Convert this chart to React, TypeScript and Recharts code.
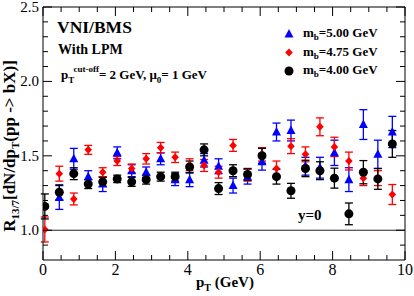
import { ComposedChart, ErrorBar, ReferenceLine, Scatter, XAxis, YAxis } from "recharts"

// pT bin centres (GeV)
const pT = [0.05, 0.45, 0.85, 1.25, 1.65, 2.05, 2.45, 2.85, 3.25, 3.65, 4.05, 4.45, 4.85, 5.25, 5.65, 6.05, 6.45, 6.85, 7.25, 7.65, 8.05, 8.45, 8.85, 9.25, 9.65]

// m_b = 5.00 GeV
const mb500 = [null, 1.22, 1.48, 1.36, 1.31, 1.52, 1.40, 1.39, 1.48, 1.34, 1.34, 1.47, 1.43, 1.30, 1.36, 1.46, 1.66, 1.67, 1.43, 1.42, 1.52, 1.34, 1.71, 1.51, 1.66]
const mb500Err = [null, 0.08, 0.07, 0.04, 0.05, 0.04, 0.04, 0.035, 0.04, 0.04, 0.047, 0.045, 0.05, 0.05, 0.05, 0.056, 0.06, 0.07, 0.06, 0.07, 0.085, 0.08, 0.1, 0.095, 0.105]

// m_b = 4.75 GeV
const mb475 = [1.005, 1.38, 1.21, 1.54, 1.39, 1.465, 1.415, 1.48, 1.555, 1.49, 1.44, 1.435, 1.39, 1.57, 1.37, 1.51, 1.415, 1.565, 1.51, 1.695, 1.56, 1.465, 1.35, 1.35, 1.24]
const mb475Err = [0.084, 0.05, 0.04, 0.03, 0.03, 0.03, 0.03, 0.035, 0.035, 0.035, 0.04, 0.04, 0.04, 0.04, 0.04, 0.045, 0.05, 0.05, 0.05, 0.06, 0.065, 0.06, 0.05, 0.05, 0.067]

// m_b = 4.00 GeV
const mb400 = [1.16, 1.255, 1.38, 1.31, 1.325, 1.345, 1.325, 1.34, 1.36, 1.36, 1.425, 1.54, 1.28, 1.40, 1.375, 1.50, 1.36, 1.265, 1.415, 1.40, 1.35, 1.11, 1.39, 1.345, 1.58]
const mb400Err = [0.084, 0.05, 0.04, 0.03, 0.03, 0.025, 0.03, 0.03, 0.03, 0.03, 0.04, 0.04, 0.04, 0.04, 0.04, 0.05, 0.05, 0.05, 0.055, 0.06, 0.067, 0.073, 0.078, 0.07, 0.09]

const legendLabels = ["5.00", "4.75", "4.00"]
const xTicks = [0, 0.5, 1, 1.5, 2, 2.5, 3, 3.5, 4, 4.5, 5, 5.5, 6, 6.5, 7, 7.5, 8, 8.5, 9, 9.5, 10]
const yTicks = [0.9, 1.0, 1.1, 1.2, 1.3, 1.4, 1.5, 1.6, 1.7, 1.8, 1.9, 2.0, 2.1, 2.2, 2.3, 2.4, 2.5]

const W = 414
const H = 296
const MARGIN = { top: 7, right: 9, left: 0, bottom: 0 }
const PLOT_TOP = MARGIN.top
const PLOT_RIGHT = W - MARGIN.right
const SERIF = "'Liberation Serif', 'Times New Roman', serif"

function toPoints(values: (number | null)[], errs: (number | null)[]) {
  return pT
    .map((x, i) => ({ x, y: values[i], err: errs[i] }))
    .filter((d) => d.y != null)
}

const series = [
  { key: "b500", color: "#0000ff", shape: "triangle", data: toPoints(mb500, mb500Err) },
  { key: "b475", color: "#ff0000", shape: "diamond", data: toPoints(mb475, mb475Err) },
  { key: "b400", color: "#000000", shape: "circle", data: toPoints(mb400, mb400Err) },
]

function Marker({ cx, cy, kind, color }: any) {
  if (kind === "triangle") {
    return <polygon points={`${cx},${cy - 5} ${cx - 4.5},${cy + 3.5} ${cx + 4.5},${cy + 3.5}`} fill={color} />
  }
  if (kind === "diamond") {
    return <polygon points={`${cx},${cy - 4} ${cx + 3.8},${cy} ${cx},${cy + 4} ${cx - 3.8},${cy}`} fill={color} />
  }
  return <circle cx={cx} cy={cy} r={4.5} fill={color} />
}

const isMultiple = (v: number, step: number) => Math.abs(v / step - Math.round(v / step)) < 1e-6

function XTick({ x, y, payload }: any) {
  const v = payload.value
  const major = isMultiple(v, 2)
  const len = major ? 9 : 5
  return (
    <g>
      <line x1={x} y1={y} x2={x} y2={y - len} stroke="#000" />
      <line x1={x} y1={PLOT_TOP} x2={x} y2={PLOT_TOP + len} stroke="#000" />
      {major && (
        <text x={x} y={y + 15} textAnchor="middle" fontFamily={SERIF} fontSize={16} fill="#000">
          {v}
        </text>
      )}
    </g>
  )
}

function YTick({ x, y, payload }: any) {
  const v = payload.value
  const major = isMultiple(v, 0.5)
  const len = major ? 9 : 5
  return (
    <g>
      <line x1={x} y1={y} x2={x + len} y2={y} stroke="#000" />
      <line x1={PLOT_RIGHT} y1={y} x2={PLOT_RIGHT - len} y2={y} stroke="#000" />
      {major && (
        <text x={x - 4} y={y + 5} textAnchor="end" fontFamily={SERIF} fontSize={15} fill="#000">
          {v.toFixed(1)}
        </text>
      )}
    </g>
  )
}

export default function App() {
  return (
    <div style={{ position: "absolute", left: 0, top: 0, width: W, height: H, background: "#fff" }}>
      <ComposedChart width={W} height={H} margin={MARGIN}>
        <XAxis
          type="number"
          dataKey="x"
          domain={[0, 10]}
          ticks={xTicks}
          interval={0}
          height={36}
          tickSize={0}
          tickMargin={0}
          tickLine={false}
          tick={<XTick />}
          axisLine={{ stroke: "#000" }}
          allowDataOverflow
        />
        <YAxis
          type="number"
          dataKey="y"
          domain={[0.8, 2.5]}
          ticks={yTicks}
          interval={0}
          width={43}
          tickSize={0}
          tickMargin={0}
          tickLine={false}
          tick={<YTick />}
          axisLine={{ stroke: "#000" }}
          allowDataOverflow
        />
        <ReferenceLine y={2.5} stroke="#000" />
        <ReferenceLine x={10} stroke="#000" />
        <ReferenceLine y={1} stroke="#222" />
        {series.map((s) => (
          <Scatter
            key={s.key}
            data={s.data}
            fill={s.color}
            isAnimationActive={false}
            shape={(p: any) => <Marker cx={p.cx} cy={p.cy} kind={s.shape} color={s.color} />}
          >
            <ErrorBar dataKey="err" direction="y" width={4} stroke={s.color} strokeWidth={1.3} />
          </Scatter>
        ))}

        <text x={57} y={33} fontFamily={SERIF} fontWeight="bold" fontSize={17.5} fill="#000">VNI/BMS</text>
        <text x={58} y={54} fontFamily={SERIF} fontWeight="bold" fontSize={14} fill="#000">With LPM</text>
        <text x={61} y={79} fontFamily={SERIF} fontWeight="bold" fontSize={13} fill="#000">
          p<tspan fontSize={9} dy={4}>T</tspan>
          <tspan fontSize={9} dy={-11}>cut-off</tspan>
          <tspan dy={7}>= 2 GeV, μ</tspan>
          <tspan fontSize={9} dy={4}>0</tspan>
          <tspan dy={-4}>= 1 GeV</tspan>
        </text>

        {series.map((s, i) => (
          <g key={s.key}>
            <Marker cx={289} cy={34 + i * 18.5} kind={s.shape} color={s.color} />
            <text x={303} y={37 + i * 18.5} fontFamily={SERIF} fontWeight="bold" fontSize={13} fill="#000">
              m<tspan fontSize={9} dy={3}>b</tspan>
              <tspan dy={-3}>={legendLabels[i]} GeV</tspan>
            </text>
          </g>
        ))}

        <text x={298} y={220} fontFamily={SERIF} fontWeight="bold" fontSize={15} fill="#000">y=0</text>

        <text x={196} y={287} fontFamily={SERIF} fontWeight="bold" fontSize={15} fill="#000">
          p<tspan fontSize={10} dy={4}>T</tspan>
          <tspan dy={-4}> (GeV)</tspan>
        </text>

        <text
          transform="translate(15, 146) rotate(-90)"
          textAnchor="middle"
          fontFamily={SERIF}
          fontWeight="bold"
          fontSize={17}
          fill="#000"
        >
          R<tspan fontSize={11} dy={4}>13/7</tspan>
          <tspan dy={-4}>[dN/dp</tspan>
          <tspan fontSize={11} dy={4}>T</tspan>
          <tspan dy={-4}>(pp -&gt; bX)]</tspan>
        </text>
      </ComposedChart>
    </div>
  )
}
